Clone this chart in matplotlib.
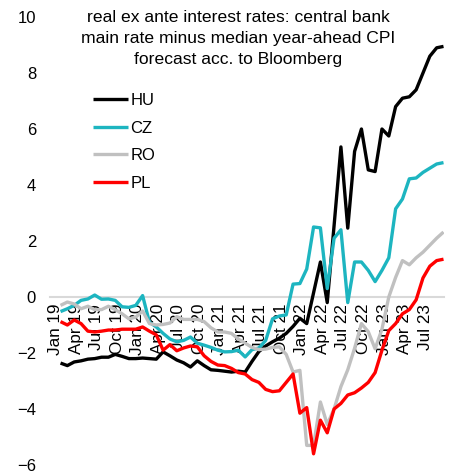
import matplotlib.pyplot as plt

plt.rcParams['font.family'] = ['Liberation Sans', 'DejaVu Sans']

# monthly, Jan 2019 - Sep 2023
tick_labels = ["Jan 19", "Apr 19", "Jul 19", "Oct 19", "Jan 20", "Apr 20", "Jul 20", "Oct 20",
               "Jan 21", "Apr 21", "Jul 21", "Oct 21", "Jan 22", "Apr 22", "Jul 22", "Oct 22",
               "Jan 23", "Apr 23", "Jul 23"]

hu = [-2.36, -2.45, -2.32, -2.28, -2.22, -2.2, -2.15, -2.15, -2.05, -2.12, -2.2, -2.2,
      -2.18, -2.2, -2.22, -1.96, -2.1, -2.25, -2.35, -2.5, -2.28, -2.45, -2.6, -2.62,
      -2.65, -2.68, -2.65, -2.68, -2.3, -1.95, -1.75, -1.6, -1.47, -1.3, -1.05, -0.76,
      -0.95, 0.15, 1.25, -0.2, 2.55, 5.36, 2.46, 5.2, 6.0, 4.54, 4.48, 6.0,
      5.75, 6.8, 7.1, 7.15, 7.4, 8.0, 8.6, 8.9, 8.95]
cz = [-0.52, -0.42, -0.3, -0.12, -0.07, 0.07, -0.08, -0.07, -0.12, -0.35, -0.37, -0.3,
      0.05, -0.9, -1.07, -1.3, -1.5, -1.6, -1.55, -1.43, -1.65, -1.72, -1.8, -1.9,
      -1.96, -1.95, -1.9, -2.14, -1.88, -1.82, -1.55, -0.78, -0.68, -0.64, 0.46, 0.48,
      1.0, 2.5, 2.47, 0.3, 2.1, 2.4, -0.2, 1.25, 1.25, 0.95, 0.55, 0.95,
      1.4, 3.15, 3.5, 4.22, 4.25, 4.45, 4.6, 4.75, 4.8]
ro = [-0.3, -0.18, -0.25, -0.42, -0.33, -0.45, -0.45, -0.33, -0.45, -0.6, -0.78, -0.72,
      -0.5, -0.95, -1.0, -0.98, -0.93, -0.7, -0.8, -0.8, -0.8, -0.88, -1.1, -1.25,
      -1.25, -1.3, -1.5, -1.65, -1.8, -1.88, -1.86, -1.8, -1.78, -2.05, -2.68, -2.62,
      -5.3, -5.3, -3.75, -4.55, -4.0, -3.2, -2.6, -1.83, -0.95, -1.24, -1.85, -1.15,
      0.0, 0.7, 1.3, 1.15, 1.4, 1.6, 1.85, 2.1, 2.32]
pl = [-0.88, -1.0, -0.82, -0.95, -1.22, -1.25, -1.22, -1.18, -1.18, -1.15, -1.15, -1.15,
      -1.07, -1.22, -1.35, -1.9, -1.7, -1.92, -1.82, -1.75, -1.78, -2.1, -2.3, -2.43,
      -2.45, -2.55, -2.7, -2.75, -2.95, -3.05, -3.3, -3.38, -3.35, -3.05, -2.75, -4.15,
      -3.95, -5.6, -4.4, -4.85, -4.0, -3.8, -3.5, -3.42, -3.25, -3.05, -2.7, -1.9,
      -1.2, -0.95, -0.6, -0.45, -0.1, 0.68, 1.1, 1.3, 1.35]

series = {"HU": (hu, "black"), "CZ": (cz, "#1db5c0"), "RO": (ro, "#c0c0c0"), "PL": (pl, "#ff0000")}

fig = plt.figure(figsize=(4.54, 4.74), dpi=100)
ax = fig.add_axes([50 / 454, 9 / 474, 393.5 / 454, 448 / 474])

for s in ("left", "right", "top"):
    ax.spines[s].set_visible(False)
ax.spines["bottom"].set_position(("data", 0))
ax.spines["bottom"].set_color("#d9d9d9")
ax.spines["bottom"].set_linewidth(1.5)
ax.patch.set_visible(False)

x = list(range(len(hu)))
for k, (name, (vals, col)) in enumerate(series.items()):
    ax.plot(x, vals, color=col, lw=2.4, label=name, zorder=3 + k, solid_capstyle="butt")

ax.set_ylim(-6, 10)
ax.set_xlim(-1.54, 56)
ax.set_yticks(range(-6, 11, 2))
ax.set_xticks([i - 0.7 for i in x[::3]])
ax.set_xticklabels(tick_labels, rotation=90)
ax.tick_params(axis="x", length=0, pad=5, labelsize=12.3)
ax.tick_params(axis="y", length=0, pad=10, labelsize=12)

fig.text(238 / 454, 1 - 10 / 474,
         "real ex ante interest rates: central bank\nmain rate minus median year-ahead CPI\nforecast acc. to Bloomberg",
         ha="center", va="top", fontsize=12.6, linespacing=1.5)

ax.legend(loc="upper left", bbox_to_anchor=(93 / 454, 1 - 93 / 474), bbox_transform=fig.transFigure,
          frameon=False, fontsize=12, handlelength=2.1, handletextpad=0.15, labelspacing=0.76,
          borderpad=0, borderaxespad=0)

fig.savefig("out.png", dpi=100)
